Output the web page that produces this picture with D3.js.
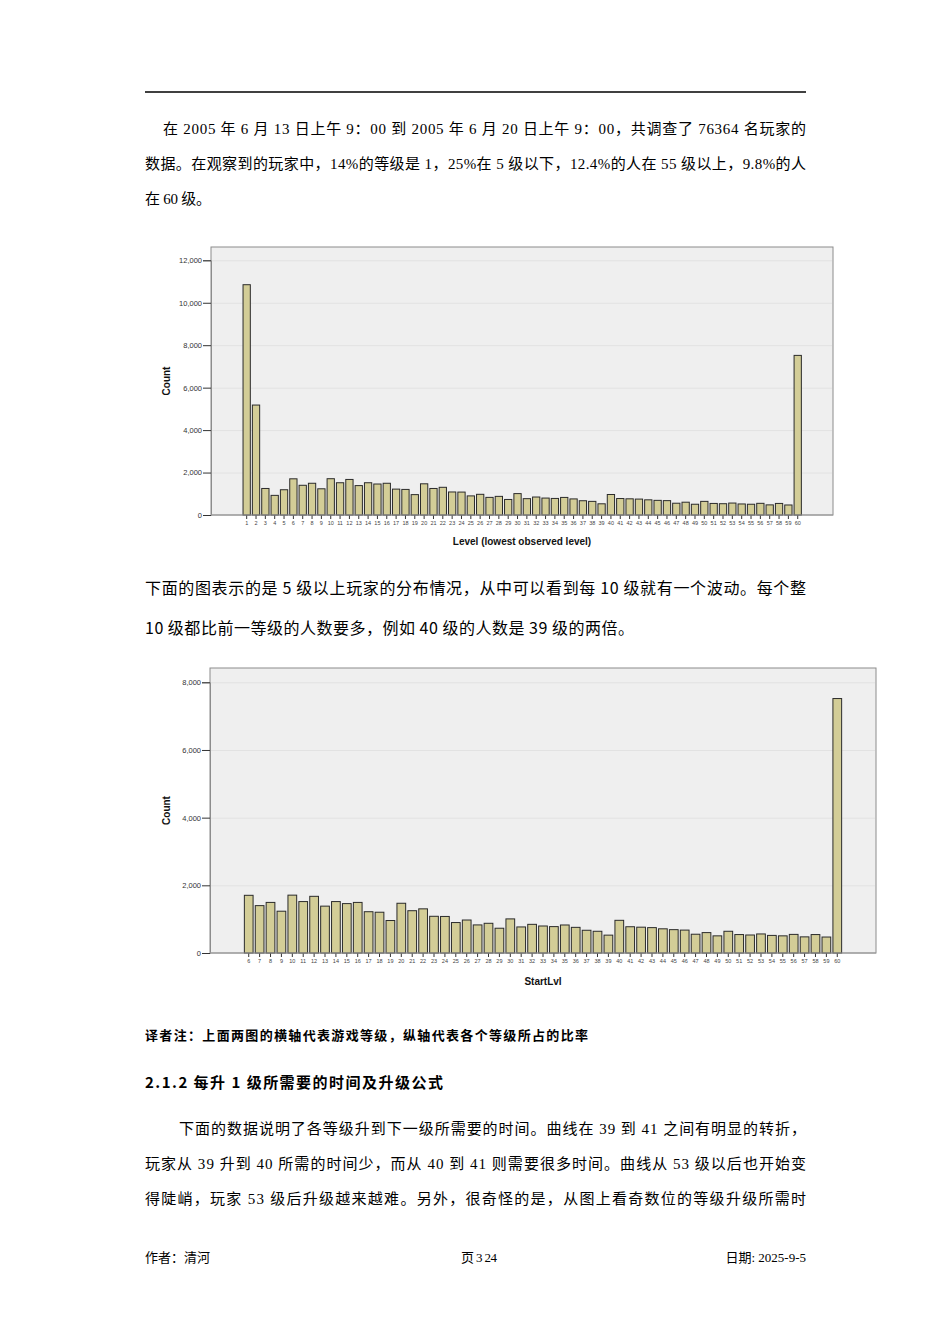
<!DOCTYPE html>
<html>
<head>
<meta charset="utf-8">
<script src="https://cdn.jsdelivr.net/npm/d3@7"></script>
<style>
  html, body { margin: 0; padding: 0; background: #fff; }
  svg { display: block; }
</style>
</head>
<body>
<svg id="page"></svg>
<script>
// player counts by lowest observed level
const levels = d3.range(1, 61);
const counts = [
  10850, 5180, 1250, 925, 1190, 1705, 1400, 1495, 1235, 1710,
  1520, 1675, 1385, 1520, 1460, 1495, 1220, 1205, 960, 1470,
  1250, 1305, 1085, 1080, 900, 975, 830, 878, 732, 1008,
  770, 847, 798, 780, 828, 758, 672, 642, 528, 966,
  776, 763, 750, 715, 690, 677, 555, 603, 507, 642,
  545, 532, 563, 520, 507, 550, 477, 545, 472, 7520
];
const yTicks1 = [0, 2000, 4000, 6000, 8000, 10000, 12000];
const yTicks2 = [0, 2000, 4000, 6000, 8000];
const xTitle1 = "Level (lowest observed level)";
const xTitle2 = "StartLvl";
const yTitle = "Count";

const W = 950, H = 1344;
const svg = d3.select("#page").attr("width", W).attr("height", H);

const serif = "'Liberation Serif', 'Noto Sans CJK SC', serif";
const sans = "'Noto Sans CJK SC', 'DejaVu Sans', sans-serif";
const chartFont = "'Liberation Sans', Arial, sans-serif";

// header rule
svg.append("line")
   .attr("x1", 145).attr("x2", 806)
   .attr("y1", 92).attr("y2", 92)
   .attr("stroke", "#000").attr("stroke-width", 1.3);

// one line of page text, stretched to the width it has in the scan
function line(t, x, y, len, size, family, weight) {
  const el = svg.append("text")
    .attr("x", x).attr("y", y)
    .attr("font-family", family)
    .attr("font-size", size)
    .attr("font-weight", weight || "normal")
    .attr("fill", "#000")
    .text(t);
  if (len) el.attr("textLength", len).attr("lengthAdjust", "spacing");
  return el;
}

line("在 2005 年 6 月 13 日上午 9：00 到 2005 年 6 月 20 日上午 9：00，共调查了 76364 名玩家的", 163, 134, 643, 15, serif);
line("数据。在观察到的玩家中，14%的等级是 1，25%在 5 级以下，12.4%的人在 55 级以上，9.8%的人", 145, 169, 661, 15, serif);
line("在 60 级。", 145, 204, 66, 15, serif);

line("下面的图表示的是 5 级以上玩家的分布情况，从中可以看到每 10 级就有一个波动。每个整", 145, 594, 661, 16, sans);
line("10 级都比前一等级的人数要多，例如 40 级的人数是 39 级的两倍。", 145, 634, 489, 16, sans);

line("译者注：上面两图的横轴代表游戏等级，纵轴代表各个等级所占的比率", 145, 1040, 443, 13, sans, "bold");
line("2.1.2 每升 1 级所需要的时间及升级公式", 145, 1088, 298, 15, sans, "bold");

line("下面的数据说明了各等级升到下一级所需要的时间。曲线在 39 到 41 之间有明显的转折，", 179, 1134, 627, 15, serif);
line("玩家从 39 升到 40 所需的时间少，而从 40 到 41 则需要很多时间。曲线从 53 级以后也开始变", 145, 1169, 661, 15, serif);
line("得陡峭，玩家 53 级后升级越来越难。另外，很奇怪的是，从图上看奇数位的等级升级所需时", 145, 1204, 661, 15, serif);

line("作者：清河", 145, 1262, null, 13, serif);
line("页 3 24", 461, 1262, null, 13, serif).attr("textLength", 36);
line("日期: 2025-9-5", 806, 1262, null, 13, serif).attr("text-anchor", "end");

// SPSS style bar chart
function barChart(opt) {
  const g = svg.append("g");
  const x = d3.scaleBand().domain(opt.cats).range(opt.xRange)
              .paddingInner(opt.pIn).paddingOuter(0.4);
  const y = d3.scaleLinear().domain([0, opt.yMax]).range([opt.bottom, opt.yTop]);

  g.append("rect")
   .attr("x", opt.left).attr("y", opt.top)
   .attr("width", opt.right - opt.left).attr("height", opt.bottom - opt.top)
   .attr("fill", "#efefef").attr("stroke", "#8c8c8c").attr("stroke-width", 1);

  g.append("g").selectAll("line")
   .data(opt.ticks.slice(1))
   .join("line")
   .attr("x1", opt.left + 1).attr("x2", opt.right - 1)
   .attr("y1", d => y(d) + 0.5).attr("y2", d => y(d) + 0.5)
   .attr("stroke", "#e2e2e2").attr("stroke-width", 1);

  g.append("g").selectAll("rect")
   .data(opt.vals)
   .join("rect")
   .attr("x", (d, i) => x(opt.cats[i]))
   .attr("y", d => y(d))
   .attr("width", x.bandwidth())
   .attr("height", d => opt.bottom - y(d))
   .attr("fill", "#d3cd97")
   .attr("stroke", "#2b2b2b")
   .attr("stroke-width", 1);

  const ya = g.append("g")
   .attr("transform", "translate(" + opt.left + ",0)")
   .call(d3.axisLeft(y).tickValues(opt.ticks).tickSize(8).tickPadding(1).tickFormat(d3.format(",")));
  ya.select(".domain").attr("stroke", "#8c8c8c");
  ya.selectAll(".tick line").attr("stroke", "#333");
  ya.selectAll("text").attr("font-family", chartFont).attr("font-size", 7.5).attr("fill", "#333");

  const xa = g.append("g")
   .attr("transform", "translate(0," + opt.bottom + ")")
   .call(d3.axisBottom(x).tickSize(4).tickPadding(2));
  xa.select(".domain").remove();
  xa.selectAll(".tick line").attr("stroke", "#333");
  xa.selectAll("text").attr("font-family", chartFont).attr("font-size", 5.5).attr("fill", "#444");

  g.append("line")
   .attr("x1", opt.left).attr("x2", opt.right)
   .attr("y1", opt.bottom).attr("y2", opt.bottom)
   .attr("stroke", "#9a9a9a").attr("stroke-width", 1);

  g.append("text")
   .attr("transform", "translate(" + 170 + "," + ((opt.top + opt.bottom) / 2) + ") rotate(-90)")
   .attr("text-anchor", "middle")
   .attr("font-family", chartFont).attr("font-size", 10).attr("font-weight", "bold")
   .attr("fill", "#111")
   .text(yTitle);

  g.append("text")
   .attr("x", opt.titleX).attr("y", opt.titleY)
   .attr("text-anchor", "middle")
   .attr("font-family", chartFont).attr("font-size", 10).attr("font-weight", "bold")
   .attr("fill", "#111")
   .text(opt.title);
}

barChart({
  cats: levels, vals: counts, ticks: yTicks1, yMax: 12000,
  left: 211, right: 833, top: 247, bottom: 515, yTop: 260.3,
  xRange: [239.3, 805.1], pIn: 0.22,
  title: xTitle1, titleX: 522, titleY: 545
});

const levels2 = levels.filter(l => l >= 6);
const counts2 = counts.filter((c, i) => levels[i] >= 6);
barChart({
  cats: levels2, vals: counts2, ticks: yTicks2, yMax: 8000,
  left: 210, right: 876, top: 668, bottom: 953, yTop: 682.3,
  xRange: [240, 846], pIn: 0.2,
  title: xTitle2, titleX: 543, titleY: 985
});
</script>
</body>
</html>
